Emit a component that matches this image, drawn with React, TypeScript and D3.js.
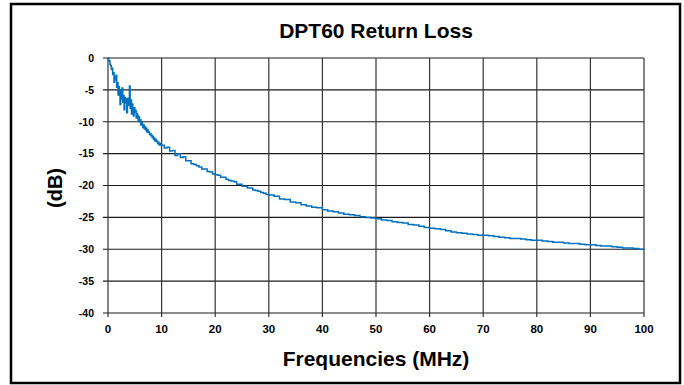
import React from "react";
import * as d3 from "d3";

const W = 684;
const H = 385;

const title = "DPT60 Return Loss";
const xLabel = "Frequencies (MHz)";
const yLabel = "(dB)";

const xTicks = [0, 10, 20, 30, 40, 50, 60, 70, 80, 90, 100];
const yTicks = [0, -5, -10, -15, -20, -25, -30, -35, -40];

// 0–10 MHz, 0.125 MHz steps (noisy region)
const freqLow = [
  0, 0.125, 0.25, 0.375, 0.5, 0.625, 0.75, 0.875,
  1, 1.125, 1.25, 1.375, 1.5, 1.625, 1.75, 1.875,
  2, 2.125, 2.25, 2.375, 2.5, 2.625, 2.75, 2.875,
  3, 3.125, 3.25, 3.375, 3.5, 3.625, 3.75, 3.875,
  4, 4.125, 4.25, 4.375, 4.5, 4.625, 4.75, 4.875,
  5, 5.125, 5.25, 5.375, 5.5, 5.625, 5.75, 5.875,
  6, 6.125, 6.25, 6.375, 6.5, 6.625, 6.75, 6.875,
  7, 7.125, 7.25, 7.375, 7.5, 7.625, 7.75, 7.875,
  8, 8.125, 8.25, 8.375, 8.5, 8.625, 8.75, 8.875,
  9, 9.125, 9.25, 9.375, 9.5, 9.625, 9.75, 9.875,
];
const lossLow = [
  0, -0.4, -0.5, -1.0, -1.2, -1.8, -1.6, -2.6,
  -2.3, -3.8, -2.9, -3.4, -2.7, -4.6, -3.9, -5.8,
  -4.5, -5.2, -7.3, -5.0, -6.4, -4.7, -6.9, -5.9,
  -8.1, -6.2, -7.0, -6.4, -8.6, -7.1, -6.3, -7.4,
  -4.4, -7.9, -6.6, -8.8, -7.2, -7.9, -9.1, -7.8,
  -8.5, -8.2, -9.4, -8.7, -9.0, -9.9, -9.2, -10.0,
  -9.7, -10.5, -10.1, -10.4, -10.9, -10.5, -11.1, -10.8,
  -11.3, -11.0, -11.6, -11.3, -11.7, -11.6, -12.0, -11.9,
  -12.2, -12.1, -12.5, -12.3, -12.8, -12.6, -13.0, -12.8,
  -13.1, -13.0, -13.4, -13.2, -13.6, -13.4, -13.7, -13.6,
];

// 10–30 MHz, 0.5 MHz steps
const freqMid = [
  10, 10.5, 11, 11.5, 12, 12.5, 13, 13.5, 14, 14.5, 15, 15.5, 16, 16.5, 17, 17.5, 18,
  18.5, 19, 19.5, 20, 20.5, 21, 21.5, 22, 22.5, 23, 23.5, 24, 24.5, 25, 25.5, 26, 26.5,
  27, 27.5, 28, 28.5, 29, 29.5,
];
const lossMid = [
  -13.7, -14.1, -14.0, -14.6, -14.5, -15.3, -15.0, -15.6, -15.5, -16.1, -16.1, -16.6,
  -16.7, -16.9, -17.1, -17.4, -17.4, -17.8, -17.9, -18.2, -18.3, -18.4, -18.7, -18.7,
  -19.0, -19.2, -19.3, -19.4, -19.8, -19.8, -20.1, -20.1, -20.4, -20.4, -20.7, -20.8,
  -20.9, -21.1, -21.2, -21.4,
];

// 30–100 MHz, 1 MHz steps
const freqHigh = [
  30, 31, 32, 33, 34, 35, 36, 37, 38, 39, 40, 41, 42, 43, 44, 45, 46, 47, 48, 49, 50,
  51, 52, 53, 54, 55, 56, 57, 58, 59, 60, 61, 62, 63, 64, 65, 66, 67, 68, 69, 70, 71,
  72, 73, 74, 75, 76, 77, 78, 79, 80, 81, 82, 83, 84, 85, 86, 87, 88, 89, 90, 91, 92,
  93, 94, 95, 96, 97, 98, 99, 100,
];
const lossHigh = [
  -21.5, -21.7, -22.1, -22.2, -22.6, -22.7, -23.0, -23.2, -23.4, -23.5, -23.8, -24.0,
  -24.1, -24.3, -24.5, -24.6, -24.7, -24.9, -25.0, -25.1, -25.2, -25.4, -25.5, -25.7,
  -25.8, -25.9, -26.1, -26.2, -26.4, -26.6, -26.7, -26.8, -26.9, -27.1, -27.3, -27.4,
  -27.5, -27.6, -27.7, -27.8, -27.8, -27.9, -28.0, -28.1, -28.2, -28.3, -28.3, -28.4,
  -28.5, -28.6, -28.6, -28.7, -28.8, -28.9, -28.9, -29.0, -29.1, -29.1, -29.2, -29.3,
  -29.3, -29.4, -29.5, -29.5, -29.6, -29.7, -29.8, -29.8, -29.9, -30.0, -30.1,
];

const plot = { left: 108, right: 644, top: 58, bottom: 313 };
const FONT = "'Liberation Sans', Arial, sans-serif";

export default function App() {
  const x = d3.scaleLinear().domain([0, 100]).range([plot.left, plot.right]);
  const y = d3.scaleLinear().domain([0, -40]).range([plot.top, plot.bottom]);

  const freqs = [...freqLow, ...freqMid, ...freqHigh];
  const losses = [...lossLow, ...lossMid, ...lossHigh];
  const pts: [number, number][] = freqs.map((f, i) => [f, losses[i]]);

  const line = d3
    .line<[number, number]>()
    .x((d) => x(d[0]))
    .y((d) => y(d[1]))
    .curve(d3.curveStepAfter);

  return (
    <svg
      width={W}
      height={H}
      style={{ position: "absolute", left: 0, top: 0, background: "#fff" }}
      fontFamily={FONT}
    >
      <rect x={0} y={0} width={W} height={H} fill="#fff" />
      <rect x={11} y={4} width={669} height={379} fill="none" stroke="#000" strokeWidth={2.5} />

      <text x={376} y={38} textAnchor="middle" fontSize={21} fontWeight="bold">
        {title}
      </text>

      {/* grid */}
      {yTicks.map((t) => (
        <line
          key={"gy" + t}
          x1={plot.left - 5}
          x2={plot.right}
          y1={y(t)}
          y2={y(t)}
          stroke="#1a1a1a"
          strokeWidth={1.2}
        />
      ))}
      {xTicks.map((t) => (
        <line
          key={"gx" + t}
          x1={x(t)}
          x2={x(t)}
          y1={plot.top}
          y2={plot.bottom + 4}
          stroke="#333"
          strokeWidth={1.2}
        />
      ))}

      {/* y tick labels */}
      {yTicks.map((t) => (
        <text
          key={"ly" + t}
          x={94}
          y={y(t) + 3.8}
          textAnchor="end"
          fontSize={10.5}
          fontWeight="bold"
        >
          {t}
        </text>
      ))}
      {/* x tick labels */}
      {xTicks.map((t) => (
        <text
          key={"lx" + t}
          x={x(t)}
          y={333}
          textAnchor="middle"
          fontSize={11.5}
          fontWeight="bold"
        >
          {t}
        </text>
      ))}

      <path d={line(pts) || ""} fill="none" stroke="#0070C0" strokeWidth={1.5} />

      <text x={376} y={366} textAnchor="middle" fontSize={21} fontWeight="bold">
        {xLabel}
      </text>
      <text
        transform={`translate(62,188) rotate(-90)`}
        textAnchor="middle"
        fontSize={20}
        fontWeight="bold"
      >
        {yLabel}
      </text>
    </svg>
  );
}
